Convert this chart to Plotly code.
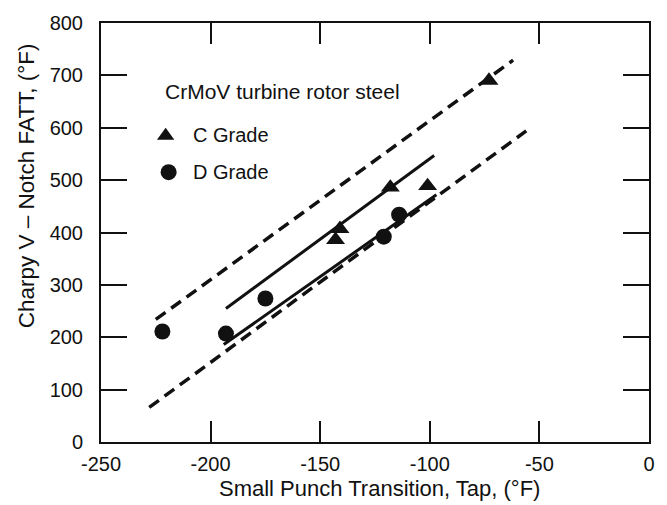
import plotly.graph_objects as go

# ---- data ----
c_grade_x = [-73, -118, -101, -141, -143]
c_grade_y = [690, 486, 489, 407, 386]
d_grade_x = [-222, -193, -175, -121, -114]
d_grade_y = [211, 207, 274, 392, 434]

c_fit_x = [-193, -98]
c_fit_y = [255, 547]
d_fit_x = [-194, -97]
d_fit_y = [186, 472]
upper_bound_x = [-225, -62]
upper_bound_y = [234, 729]
lower_bound_x = [-228, -56]
lower_bound_y = [66, 594]

x_ticks = [-250, -200, -150, -100, -50, 0]
x_tick_labels = ["-250", "-200", "-150", "-100", "-50", "0"]
y_ticks = [0, 100, 200, 300, 400, 500, 600, 700, 800]
y_tick_labels = ["0", "100", "200", "300", "400", "500", "600", "700", "800"]

legend_title = "CrMoV turbine rotor steel"
c_label = "C Grade"
d_label = "D Grade"
x_title = "Small Punch Transition, Tap, (°F)"
y_title = "Charpy V – Notch FATT, (°F)"

FONT = "Liberation Sans, Arial, Helvetica, sans-serif"
INK = "#111111"

fig = go.Figure()

dash_style = dict(color=INK, width=3.5, dash="12px,7px")
fig.add_trace(go.Scatter(x=upper_bound_x, y=upper_bound_y, mode="lines",
                         line=dash_style, showlegend=False, hoverinfo="skip"))
fig.add_trace(go.Scatter(x=lower_bound_x, y=lower_bound_y, mode="lines",
                         line=dash_style, showlegend=False, hoverinfo="skip"))
fig.add_trace(go.Scatter(x=c_fit_x, y=c_fit_y, mode="lines",
                         line=dict(color=INK, width=3), showlegend=False, hoverinfo="skip"))
fig.add_trace(go.Scatter(x=d_fit_x, y=d_fit_y, mode="lines",
                         line=dict(color=INK, width=3), showlegend=False, hoverinfo="skip"))

fig.add_trace(go.Scatter(x=c_grade_x, y=c_grade_y, mode="markers", name=c_label,
                         marker=dict(symbol="triangle-up", size=16.5, color=INK,
                                     line=dict(width=0)),
                         showlegend=False))
fig.add_trace(go.Scatter(x=d_grade_x, y=d_grade_y, mode="markers", name=d_label,
                         marker=dict(symbol="circle", size=16, color=INK,
                                     line=dict(width=0)),
                         showlegend=False))

# plot-area geometry (pixels) used for placing the legend box
L, R, T, B = 101, 652, 15, 442
W, H = R - L, B - T


def px(xp):
    return (xp - L) / W


def py(yp):
    return (B - yp) / H


annotations = [
    dict(text=legend_title, x=px(163), y=py(85), xref="paper", yref="paper",
         xanchor="left", yanchor="middle", showarrow=False,
         font=dict(family=FONT, size=21, color=INK)),
    dict(text=c_label, x=px(191), y=py(129), xref="paper", yref="paper",
         xanchor="left", yanchor="middle", showarrow=False,
         font=dict(family=FONT, size=20, color=INK)),
    dict(text=d_label, x=px(191), y=py(167), xref="paper", yref="paper",
         xanchor="left", yanchor="middle", showarrow=False,
         font=dict(family=FONT, size=20, color=INK)),
    dict(text=x_title, x=px(381), y=py(489), xref="paper", yref="paper",
         xanchor="center", yanchor="middle", showarrow=False,
         font=dict(family=FONT, size=22, color=INK)),
    dict(text=y_title, x=px(26), y=py(181), xref="paper", yref="paper",
         xanchor="center", yanchor="middle", showarrow=False, textangle=-90,
         font=dict(family=FONT, size=22.5, color=INK)),
]

shapes = [
    dict(type="path", xref="paper", yref="paper", xsizemode="pixel", ysizemode="pixel",
         xanchor=px(166), yanchor=py(130),
         path="M -8.7 -4 L 8.7 -4 L 0 8 Z",
         fillcolor=INK, line=dict(width=0)),
    dict(type="circle", xref="paper", yref="paper", xsizemode="pixel", ysizemode="pixel",
         xanchor=px(169), yanchor=py(167), x0=-8, x1=8, y0=-8, y1=8,
         fillcolor=INK, line=dict(width=0)),
]

axis_common = dict(showgrid=False, zeroline=False, showline=True, linecolor=INK,
                   linewidth=2, mirror="allticks", ticks="inside", tickwidth=1.5,
                   tickcolor=INK, tickfont=dict(family=FONT, size=20, color=INK))

fig.update_layout(
    width=667, height=505,
    margin=dict(l=L, r=667 - R, t=T, b=505 - B, pad=0),
    paper_bgcolor="white", plot_bgcolor="white",
    showlegend=False,
    annotations=annotations,
    shapes=shapes,
    xaxis=dict(range=[-250, 0], tickvals=x_ticks, ticktext=x_tick_labels, ticklen=21,
               ticklabelstandoff=3, **axis_common),
    yaxis=dict(range=[0, 800], tickvals=y_ticks, ticktext=y_tick_labels, ticklen=26,
               ticklabelstandoff=12, **axis_common),
)

fig.write_html("out.html")
